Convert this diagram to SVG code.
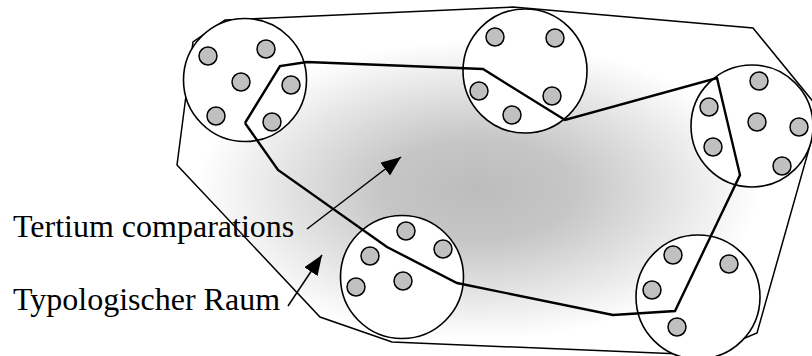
<svg xmlns="http://www.w3.org/2000/svg" width="812" height="356" viewBox="0 0 812 356">
<defs>
<radialGradient id="g" gradientUnits="userSpaceOnUse" cx="0" cy="0" r="1" gradientTransform="translate(478,190) scale(320,170)">
<stop offset="0" stop-color="#bcbcbc"/>
<stop offset="0.3" stop-color="#c6c6c6"/>
<stop offset="0.88" stop-color="#ffffff"/>
</radialGradient>
<marker id="ah" markerUnits="userSpaceOnUse" markerWidth="22" markerHeight="18" refX="20" refY="8" orient="auto" viewBox="0 0 22 18">
<path d="M0,0 L20,8 L0,16 z" fill="#000"/>
</marker>
</defs>
<style>
.outer{fill:url(#g);stroke:#000;stroke-width:1.5;stroke-linejoin:miter}
.grp{fill:#fff;stroke:#000;stroke-width:1.6}
.inner{fill:none;stroke:#000;stroke-width:2.4;stroke-linejoin:miter}
.dot{fill:#c0c0c0;stroke:#000;stroke-width:1.5}
.arr{stroke:#000;stroke-width:1.5;fill:none;marker-end:url(#ah)}
.lbl{font-family:"Liberation Serif","Times New Roman",serif;font-size:32px;fill:#000}
</style>
<g id="space">
<polygon class="outer" points="225,20 513,7 753,28 820,110 757,333 705,355 392,342 320,317 177,165 193,42"/>
</g>
<g id="group1">
<circle class="grp" cx="245" cy="80" r="61.5"/>
</g>
<g id="group2">
<circle class="grp" cx="525" cy="71" r="62"/>
</g>
<g id="group3">
<circle class="grp" cx="752" cy="126" r="61"/>
</g>
<g id="group4">
<circle class="grp" cx="402" cy="277" r="61.5"/>
</g>
<g id="group5">
<circle class="grp" cx="698" cy="297" r="62"/>
</g>
<g id="tertium">
<polyline class="inner" points="245,123 280,66 307,62 483,69 565,120 717,78 740,175 675,311 613,315 457,283 387,247 278,170 245,123"/>
</g>
<g id="dots1">
<circle class="dot" cx="208" cy="56" r="9"/>
<circle class="dot" cx="266" cy="49" r="9"/>
<circle class="dot" cx="241" cy="82" r="9"/>
<circle class="dot" cx="291" cy="85" r="9"/>
<circle class="dot" cx="216" cy="116" r="9"/>
<circle class="dot" cx="272" cy="122" r="9"/>
</g>
<g id="dots2">
<circle class="dot" cx="495" cy="37" r="9"/>
<circle class="dot" cx="555" cy="38" r="9"/>
<circle class="dot" cx="479" cy="91" r="9"/>
<circle class="dot" cx="552" cy="96" r="9"/>
<circle class="dot" cx="512" cy="115" r="9"/>
</g>
<g id="dots3">
<circle class="dot" cx="759" cy="81" r="9"/>
<circle class="dot" cx="709" cy="107" r="9"/>
<circle class="dot" cx="757" cy="122" r="9"/>
<circle class="dot" cx="799" cy="127" r="9"/>
<circle class="dot" cx="713" cy="147" r="9"/>
<circle class="dot" cx="782" cy="166" r="9"/>
</g>
<g id="dots4">
<circle class="dot" cx="406" cy="231" r="9"/>
<circle class="dot" cx="443" cy="249" r="9"/>
<circle class="dot" cx="370" cy="256" r="9"/>
<circle class="dot" cx="403" cy="281" r="9"/>
<circle class="dot" cx="356" cy="287" r="9"/>
</g>
<g id="dots5">
<circle class="dot" cx="673" cy="255" r="9"/>
<circle class="dot" cx="729" cy="264" r="9"/>
<circle class="dot" cx="652" cy="290" r="9"/>
<circle class="dot" cx="677" cy="327" r="9"/>
</g>
<g id="connectors">
<line class="arr" x1="307" y1="229" x2="401" y2="157"/>
<line class="arr" x1="288" y1="306" x2="322" y2="255"/>
</g>
<g id="labels">
<text class="lbl" x="13" y="237">Tertium comparations</text>
<text class="lbl" x="13" y="310">Typologischer Raum</text>
</g>
</svg>
